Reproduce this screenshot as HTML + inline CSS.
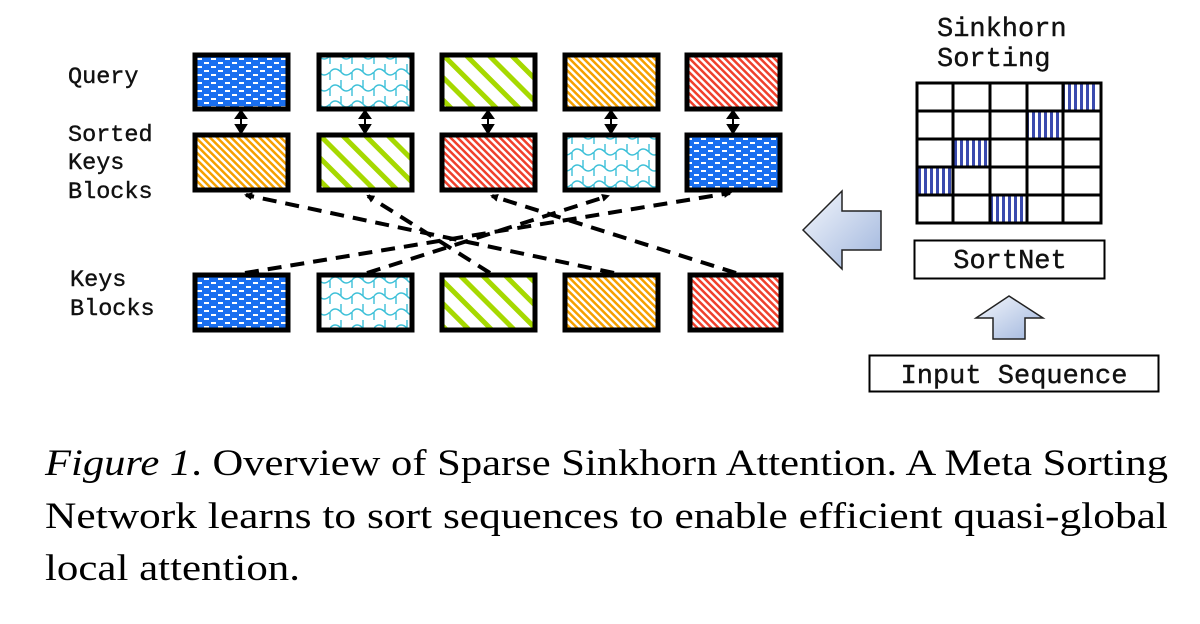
<!DOCTYPE html>
<html><head><meta charset="utf-8"><style>
html,body{margin:0;padding:0;background:#fff;}
svg{display:block}
.lbl{font-family:"Liberation Mono",monospace;font-size:23.5px;fill:#111;stroke:#111;stroke-width:0.4}
.big{font-size:27px}
.cap{font-family:"Liberation Serif",serif;font-size:37px;fill:#000}
</style></head><body>
<svg width="1200" height="624" viewBox="0 0 1200 624" xmlns="http://www.w3.org/2000/svg">
<defs>
<pattern id="pBlue" width="14" height="8" patternUnits="userSpaceOnUse">
<rect width="14" height="8" fill="#1a6ff0"/><rect x="1" y="2" width="5" height="2" fill="#fff"/><rect x="8" y="6" width="5" height="2" fill="#fff"/>
</pattern>
<pattern id="pCyan" width="22" height="16" patternUnits="userSpaceOnUse">
<rect width="22" height="16" fill="#fff"/>
<path d="M0 8 Q5 2 11 8 Q16 14 22 8 M11 0 Q11 4 11 8 M0 16 Q0 12 0 8 M22 16 Q22 12 22 8" stroke="#3cc0d8" stroke-width="1.4" fill="none"/>
</pattern>
<pattern id="pGreen" width="16" height="16" patternUnits="userSpaceOnUse" patternTransform="rotate(-45)">
<rect width="16" height="16" fill="#fff"/><rect width="5" height="16" fill="#a6d900"/>
</pattern>
<pattern id="pOrange" width="5" height="5" patternUnits="userSpaceOnUse" patternTransform="rotate(-45)">
<rect width="5" height="5" fill="#fff"/><rect width="2.5" height="5" fill="#f5a000"/>
</pattern>
<pattern id="pRed" width="5" height="5" patternUnits="userSpaceOnUse" patternTransform="rotate(-45)">
<rect width="5" height="5" fill="#fff"/><rect width="2.5" height="5" fill="#f0402c"/>
</pattern>
<pattern id="pStripe" width="6" height="6" patternUnits="userSpaceOnUse">
<rect width="6" height="6" fill="#fff"/><rect width="3" height="6" fill="#3a4aae"/>
</pattern>
<linearGradient id="g1" x1="0" y1="0" x2="1" y2="1">
<stop offset="0" stop-color="#f4f7fc"/><stop offset="1" stop-color="#9fb5dd"/>
</linearGradient>
<marker id="ah" markerWidth="8" markerHeight="8" refX="6" refY="4" orient="auto" markerUnits="userSpaceOnUse">
<path d="M0 0 L8 4 L0 8 Z" fill="#000"/>
</marker>
</defs>

<text class="lbl" x="68" y="83">Query</text>
<text class="lbl" x="68" y="141">Sorted</text>
<text class="lbl" x="68" y="169">Keys</text>
<text class="lbl" x="68" y="198">Blocks</text>
<text class="lbl" x="70" y="286">Keys</text>
<text class="lbl" x="70" y="315">Blocks</text>

<g stroke="#000" stroke-width="5">
<rect x="195" y="55" width="93" height="54" fill="url(#pBlue)"/>
<rect x="319" y="55" width="93" height="54" fill="url(#pCyan)"/>
<rect x="442" y="55" width="93" height="54" fill="url(#pGreen)"/>
<rect x="565" y="55" width="93" height="54" fill="url(#pOrange)"/>
<rect x="687" y="55" width="93" height="54" fill="url(#pRed)"/>

<rect x="195" y="135" width="93" height="55" fill="url(#pOrange)"/>
<rect x="319" y="135" width="93" height="55" fill="url(#pGreen)"/>
<rect x="442" y="135" width="93" height="55" fill="url(#pRed)"/>
<rect x="565" y="135" width="93" height="55" fill="url(#pCyan)"/>
<rect x="687" y="135" width="93" height="55" fill="url(#pBlue)"/>

<rect x="195" y="275" width="93" height="55" fill="url(#pBlue)"/>
<rect x="319" y="275" width="93" height="55" fill="url(#pCyan)"/>
<rect x="442" y="275" width="93" height="55" fill="url(#pGreen)"/>
<rect x="565" y="275" width="93" height="55" fill="url(#pOrange)"/>
<rect x="690" y="275" width="91" height="55" fill="url(#pRed)"/>
</g>

<g stroke="#000" stroke-width="2" fill="#000">
<g id="da"><line x1="241" y1="116" x2="241" y2="127"/><path d="M236 118 L241 111 L246 118Z M236 125 L241 133 L246 125Z"/></g>
<use href="#da" x="124"/><use href="#da" x="247"/><use href="#da" x="370"/><use href="#da" x="492"/>
</g>

<g stroke="#000" stroke-width="4" stroke-dasharray="14,9" fill="none" marker-end="url(#ah)">
<line x1="614" y1="273" x2="246" y2="195"/>
<line x1="490" y1="273" x2="368" y2="196"/>
<line x1="736" y1="273" x2="492" y2="196"/>
<line x1="367" y1="273" x2="608" y2="196"/>
<line x1="245" y1="273" x2="730" y2="193"/>
</g>

<text class="lbl big" x="937" y="36">Sinkhorn</text>
<text class="lbl big" x="937" y="66">Sorting</text>
<g>
<rect x="1064" y="84" width="33" height="26" fill="url(#pStripe)"/>
<rect x="1027" y="112" width="33" height="26" fill="url(#pStripe)"/>
<rect x="954" y="140" width="33" height="26" fill="url(#pStripe)"/>
<rect x="918" y="168" width="33" height="26" fill="url(#pStripe)"/>
<rect x="991" y="196" width="33" height="26" fill="url(#pStripe)"/>
<g stroke="#000" stroke-width="3" fill="none">
<rect x="917" y="83" width="184" height="140"/>
<line x1="953" y1="83" x2="953" y2="223"/><line x1="990" y1="83" x2="990" y2="223"/>
<line x1="1027" y1="83" x2="1027" y2="223"/><line x1="1063" y1="83" x2="1063" y2="223"/>
<line x1="917" y1="111" x2="1101" y2="111"/><line x1="917" y1="139" x2="1101" y2="139"/>
<line x1="917" y1="167" x2="1101" y2="167"/><line x1="917" y1="195" x2="1101" y2="195"/>
</g>
</g>
<rect x="914.5" y="240.5" width="190" height="38" fill="#fff" stroke="#000" stroke-width="2"/>
<text class="lbl big" x="1010" y="268" text-anchor="middle">SortNet</text>
<rect x="869.5" y="355.5" width="289" height="36" fill="#fff" stroke="#000" stroke-width="2"/>
<text class="lbl big" x="1014" y="383" text-anchor="middle">Input Sequence</text>

<path d="M803 230 L842 191 L842 211 L881 211 L881 250 L842 250 L842 269 Z" fill="url(#g1)" stroke="#222" stroke-width="1.5"/>
<path d="M1009 296 L1043 318 L1025 318 L1025 339 L993 339 L993 318 L976 318 Z" fill="url(#g1)" stroke="#222" stroke-width="1.5"/>

<text class="cap" x="45" y="475" textLength="1123" lengthAdjust="spacingAndGlyphs"><tspan font-style="italic">Figure 1</tspan>. Overview of Sparse Sinkhorn Attention. A Meta Sorting</text>
<text class="cap" x="45" y="528" textLength="1123" lengthAdjust="spacingAndGlyphs">Network learns to sort sequences to enable efficient quasi-global</text>
<text class="cap" x="45" y="580" textLength="255" lengthAdjust="spacingAndGlyphs">local attention.</text>
</svg>
</body></html>
